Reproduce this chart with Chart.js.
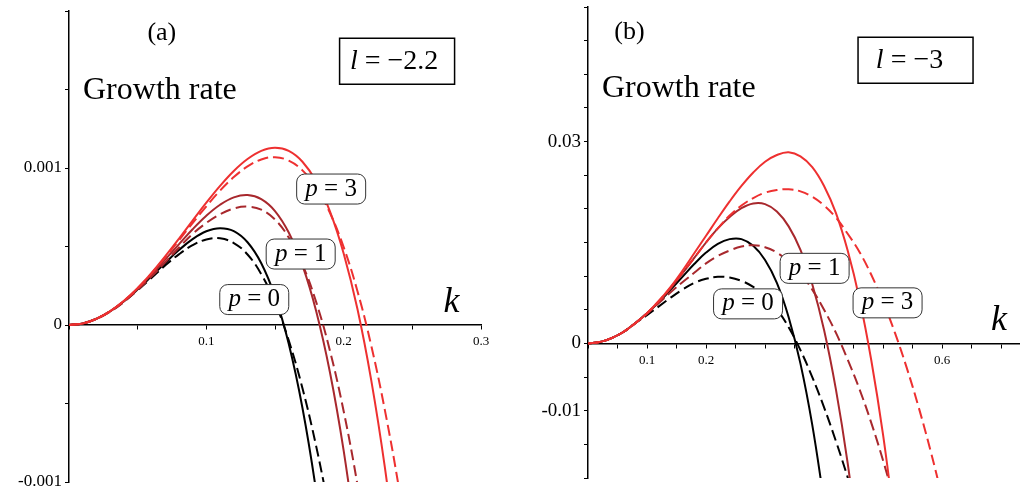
<!DOCTYPE html>
<html>
<head>
<meta charset="utf-8">
<script src="https://cdn.jsdelivr.net/npm/chart.js@4.4.0/dist/chart.umd.min.js"></script>
<style>
  html, body { margin: 0; padding: 0; background: #fff; }
  #wrap { position: relative; width: 1020px; height: 494px; overflow: hidden; }
  canvas { position: absolute; top: 0; }
</style>
</head>
<body>
<div id="wrap">
  <canvas id="left" width="510" height="494" style="left:0"></canvas>
  <canvas id="right" width="510" height="494" style="left:510px"></canvas>
</div>
<script>
// (a) l = -2.2 : wavenumber k and growth rate of each curve
const kLeft = [0, 0.01, 0.02, 0.03, 0.04, 0.05, 0.06, 0.07, 0.08, 0.09, 0.1, 0.11, 0.12,
  0.13, 0.14, 0.15, 0.16, 0.17, 0.18, 0.19, 0.2, 0.21, 0.22, 0.23, 0.24, 0.25];
const leftP0Solid = [0, 0.0000100, 0.0000397, 0.0000875, 0.000151, 0.000227, 0.000310, 0.000395,
  0.000477, 0.000547, 0.000597, 0.000617, 0.000598, 0.000527, 0.000393, 0.000182, -0.000120,
  -0.000529, -0.001061, -0.001733];
const leftP0Dashed = [0, 0.0000100, 0.0000396, 0.0000868, 0.000149, 0.000222, 0.000300, 0.000379,
  0.000450, 0.000508, 0.000545, 0.000552, 0.000522, 0.000449, 0.000324, 0.000144, -0.000098,
  -0.000403, -0.000773, -0.001204];
const leftP1Solid = [0, 0.0000099, 0.0000393, 0.0000871, 0.000151, 0.000230, 0.000319, 0.000416,
  0.000514, 0.000610, 0.000696, 0.000766, 0.000813, 0.000828, 0.000802, 0.000726, 0.000589,
  0.000380, 0.000088, -0.000301, -0.000800, -0.001421];
const leftP1Dashed = [0, 0.0000097, 0.0000383, 0.0000847, 0.000147, 0.000223, 0.000308, 0.000399,
  0.000492, 0.000580, 0.000650, 0.000705, 0.000742, 0.000754, 0.000735, 0.000672, 0.000557,
  0.000385, 0.000146, -0.000164, -0.000549, -0.001015, -0.001566];
const leftP3Solid = [0, 0.0000100, 0.0000397, 0.0000882, 0.000154, 0.000236, 0.000331, 0.000437,
  0.000549, 0.000665, 0.000779, 0.000886, 0.000981, 0.001057, 0.001109, 0.001129, 0.001109,
  0.001040, 0.000915, 0.000724, 0.000456, 0.000103, -0.000348, -0.000907, -0.001588];
const leftP3Dashed = [0, 0.0000100, 0.0000396, 0.0000880, 0.000154, 0.000234, 0.000328, 0.000430,
  0.000539, 0.000649, 0.000756, 0.000856, 0.000942, 0.001010, 0.001054, 0.001069, 0.001047,
  0.000985, 0.000876, 0.000714, 0.000496, 0.000217, -0.000128, -0.000542, -0.001026, -0.001582];
const leftXTickLabels = [0.1, 0.2, 0.3];
const leftYTickLabels = [-0.001, 0, 0.001];

// (b) l = -3
const kRight = [0, 0.02, 0.04, 0.06, 0.08, 0.1, 0.12, 0.14, 0.16, 0.18, 0.2, 0.22, 0.24, 0.26,
  0.28, 0.3, 0.32, 0.34, 0.36, 0.38, 0.4, 0.42, 0.44, 0.46, 0.48, 0.5, 0.52, 0.54, 0.56, 0.58, 0.6];
const rightP0Solid = [0, 0.0002, 0.0008, 0.0017, 0.0030, 0.0045, 0.0061, 0.0080, 0.0099, 0.0118,
  0.0135, 0.0148, 0.0155, 0.0155, 0.0145, 0.0124, 0.0090, 0.0039, -0.0030, -0.0121, -0.0235];
const rightP0Dashed = [0, 0.0002, 0.0008, 0.0017, 0.0030, 0.0042, 0.0055, 0.0068, 0.0080, 0.0090,
  0.0096, 0.0099, 0.0098, 0.0093, 0.0084, 0.0071, 0.0051, 0.0024, -0.0010, -0.0050, -0.0095,
  -0.0145, -0.0199, -0.0257];
const rightP1Solid = [0, 0.0002, 0.0008, 0.0017, 0.0030, 0.0045, 0.0062, 0.0082, 0.0104, 0.0127,
  0.0150, 0.0171, 0.0188, 0.0201, 0.0208, 0.0207, 0.0196, 0.0174, 0.0139, 0.0088, 0.0020,
  -0.0068, -0.0178, -0.0313];
const rightP1Dashed = [0, 0.0002, 0.0008, 0.0017, 0.0030, 0.0044, 0.0060, 0.0076, 0.0091, 0.0105,
  0.0119, 0.0130, 0.0138, 0.0144, 0.0146, 0.0143, 0.0135, 0.0122, 0.0104, 0.0080, 0.0050,
  0.0016, -0.0024, -0.0068, -0.0118, -0.0174, -0.0236];
const rightP3Solid = [0, 0.0002, 0.0008, 0.0017, 0.0030, 0.0045, 0.0063, 0.0084, 0.0108, 0.0134,
  0.0160, 0.0186, 0.0211, 0.0234, 0.0254, 0.0270, 0.0280, 0.0284, 0.0278, 0.0262, 0.0234,
  0.0194, 0.0138, 0.0066, -0.0025, -0.0136, -0.0270];
const rightP3Dashed = [0, 0.0002, 0.0008, 0.0017, 0.0030, 0.0045, 0.0063, 0.0083, 0.0105, 0.0127,
  0.0150, 0.0171, 0.0190, 0.0205, 0.0216, 0.0224, 0.0228, 0.0229, 0.0226, 0.0218, 0.0205,
  0.0187, 0.0163, 0.0136, 0.0102, 0.0062, 0.0016, -0.0036, -0.0094, -0.0158, -0.0228];
const rightXTickLabels = [0.1, 0.2, 0.6];
const rightYTickLabels = [-0.01, 0, 0.03];

const RED = '#ee3030';
const BROWN = '#a8282d';
const BLACK = '#000000';
const SERIF = '"Liberation Serif", "DejaVu Serif", serif';

function pick(list, v) {
  const hit = list.find(t => Math.abs(t - v) < 1e-9);
  return hit === undefined ? '' : String(hit);
}

function roundBox(ctx, x, y, w, h, r) {
  ctx.moveTo(x + r, y);
  ctx.arcTo(x + w, y, x + w, y + h, r);
  ctx.arcTo(x + w, y + h, x, y + h, r);
  ctx.arcTo(x, y + h, x, y, r);
  ctx.arcTo(x, y, x + w, y, r);
  ctx.closePath();
}

// text labels and boxed labels drawn on top of the curves
function notes(items) {
  return {
    id: 'notes',
    afterDatasetsDraw(chart) {
      const ctx = chart.ctx;
      const sx = chart.scales.x, sy = chart.scales.y;
      ctx.save();
      items.forEach(n => {
        const cx = sx.getPixelForValue(n.at[0]);
        const cy = sy.getPixelForValue(n.at[1]);
        if (n.box) {
          ctx.beginPath();
          if (n.box === 'round') roundBox(ctx, cx - n.w / 2, cy - n.h / 2, n.w, n.h, 8);
          else ctx.rect(cx - n.w / 2, cy - n.h / 2, n.w, n.h);
          ctx.fillStyle = '#fff';
          ctx.fill();
          ctx.lineWidth = n.box === 'round' ? 1 : 1.5;
          ctx.strokeStyle = n.box === 'round' ? '#333' : '#000';
          ctx.stroke();
        }
        const fontOf = it => (it ? 'italic ' : '') + n.size + 'px ' + SERIF;
        let total = 0;
        n.parts.forEach(p => { ctx.font = fontOf(p[1]); total += ctx.measureText(p[0]).width; });
        let x = n.align === 'left' ? cx : cx - total / 2 + (n.dx || 0);
        ctx.fillStyle = '#000';
        ctx.textAlign = 'left';
        ctx.textBaseline = 'middle';
        n.parts.forEach(p => {
          ctx.font = fontOf(p[1]);
          ctx.fillText(p[0], x, cy);
          x += ctx.measureText(p[0]).width;
        });
      });
      ctx.restore();
    }
  };
}

function buildChart(id, o) {
  const datasets = o.series.map(s => ({
    data: s.values.map((v, i) => ({ x: o.k[i], y: v })),
    borderColor: s.color,
    borderDash: s.dashed ? [11, 5] : [],
    borderWidth: 2,
    pointRadius: 0,
    fill: false,
    tension: 0.4,
    clip: 0
  }));
  new Chart(document.getElementById(id), {
    type: 'line',
    data: { datasets: datasets },
    options: {
      responsive: false,
      animation: false,
      events: [],
      layout: { padding: o.padding },
      plugins: { legend: { display: false }, tooltip: { enabled: false } },
      scales: {
        x: {
          type: 'linear', min: 0, max: o.xMax,
          position: { y: 0 },
          border: { color: '#000', width: 1.5 },
          grid: { drawOnChartArea: false, color: '#000', tickLength: 4 },
          ticks: {
            stepSize: 0.05, includeBounds: false, autoSkip: false, maxRotation: 0,
            padding: 5, color: '#000', font: { family: SERIF, size: 13 },
            callback: v => pick(o.xLabels, v)
          },
          afterFit: s => { s.paddingLeft = 0; s.paddingRight = 0; }
        },
        y: {
          type: 'linear', min: o.yMin, max: o.yMax,
          position: 'left',
          border: { color: '#000', width: 1.5 },
          grid: { drawOnChartArea: false, color: '#000', tickLength: 4 },
          ticks: {
            stepSize: o.yStep, includeBounds: false, autoSkip: false,
            padding: 3, color: '#000', font: { family: SERIF, size: o.yFont },
            callback: v => pick(o.yLabels, v)
          },
          afterFit: s => { s.width = o.axisWidth; s.paddingTop = 0; s.paddingBottom = 0; }
        }
      }
    },
    plugins: [notes(o.notes)]
  });
}

const pLabel = (txt, at) => ({ parts: [['p', 1], [' = ' + txt, 0]], at: at, size: 25, box: 'round', w: 69, h: 30 });

buildChart('left', {
  k: kLeft,
  series: [
    { values: leftP3Solid, color: RED },
    { values: leftP3Dashed, color: RED, dashed: true },
    { values: leftP1Solid, color: BROWN },
    { values: leftP1Dashed, color: BROWN, dashed: true },
    { values: leftP0Solid, color: BLACK },
    { values: leftP0Dashed, color: BLACK, dashed: true }
  ],
  xMax: 0.3, yMin: -0.001, yMax: 0.002, yStep: 0.0005,
  xLabels: leftXTickLabels, yLabels: leftYTickLabels, yFont: 17,
  axisWidth: 69,
  padding: { left: 0, top: 11, right: 29, bottom: 12 },
  notes: [
    { parts: [['(a)', 0]], at: [0.0676, 0.00186], size: 26 },
    { parts: [['Growth rate', 0]], at: [0.0102, 0.00149], size: 32, align: 'left' },
    { parts: [['l', 1], [' = \u22122.2', 0]], at: [0.2389, 0.00168], size: 28, box: 'rect', w: 115, h: 46, dx: -3 },
    pLabel('3', [0.1909, 0.000866]),
    pLabel('1', [0.1687, 0.000452]),
    pLabel('0', [0.1349, 0.000162]),
    { parts: [['k', 1]], at: [0.2785, 0.00014], size: 36 }
  ]
});

buildChart('right', {
  k: kRight,
  series: [
    { values: rightP3Solid, color: RED },
    { values: rightP3Dashed, color: RED, dashed: true },
    { values: rightP1Solid, color: BROWN },
    { values: rightP1Dashed, color: BROWN, dashed: true },
    { values: rightP0Solid, color: BLACK },
    { values: rightP0Dashed, color: BLACK, dashed: true }
  ],
  xMax: 0.732, yMin: -0.02, yMax: 0.05, yStep: 0.005,
  xLabels: rightXTickLabels, yLabels: rightYTickLabels, yFont: 19,
  axisWidth: 78,
  padding: { left: 0, top: 7, right: 0, bottom: 16 },
  notes: [
    { parts: [['(b)', 0]], at: [0.0703, 0.0462], size: 26 },
    { parts: [['Growth rate', 0]], at: [0.0237, 0.0378], size: 32, align: 'left' },
    { parts: [['l', 1], [' = \u22123', 0]], at: [0.555, 0.0421], size: 28, box: 'rect', w: 115, h: 46, dx: -6 },
    pLabel('1', [0.384, 0.01116]),
    pLabel('0', [0.2712, 0.00588]),
    pLabel('3', [0.5076, 0.00603]),
    { parts: [['k', 1]], at: [0.6966, 0.00342], size: 36 }
  ]
});
</script>
</body>
</html>
